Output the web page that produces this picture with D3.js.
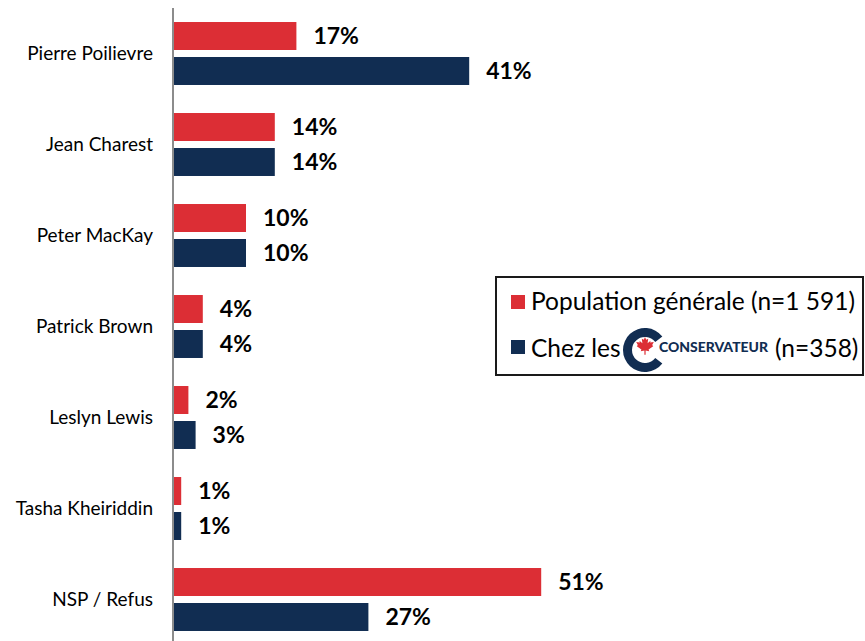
<!DOCTYPE html>
<meta charset="UTF-8">
<html>
<head>
	<title>Course à la direction conservatrice</title>
	<script src="https://d3js.org/d3.v7.min.js"></script>
	<style>
		body { margin: 0; background: #fff; }
		text { font-family: Lato, "Open Sans", sans-serif; }
	</style>
</head>
<body>
	<svg id="chart" width="865" height="641"></svg>

	<script>
		// Data
		var candidates = ["Pierre Poilievre", "Jean Charest", "Peter MacKay", "Patrick Brown",
			"Leslyn Lewis", "Tasha Kheiriddin", "NSP / Refus"];
		var seriesKeys = ["general", "conservateur"];
		var general = [17, 14, 10, 4, 2, 1, 51];
		var conservateur = [41, 14, 10, 4, 3, 1, 27];
		var colors = { general: "#dc2e35", conservateur: "#112d52" };

		var rows = candidates.map(function(c, i){
			return { name: c, general: general[i], conservateur: conservateur[i] };
		});

		var svg = d3.select("#chart");

		// Scales
		var y = d3.scaleBand()
			.domain(candidates)
			.range([8, 645])
			.paddingInner(0.308)
			.paddingOuter(0.154);
		var ySub = d3.scaleBand()
			.domain(seriesKeys)
			.range([0, y.bandwidth()])
			.paddingInner(0.2);
		var x = d3.scaleLinear()
			.domain([0, 100])
			.range([174, 894]);

		// Bars and labels
		var groups = svg.selectAll("g.group")
			.data(rows)
			.enter()
			.append("g")
				.attr("class", "group")
				.attr("transform", function(d){ return "translate(0," + y(d.name) + ")"; });

		seriesKeys.forEach(function(k){
			groups.append("rect")
				.attr("x", x(0))
				.attr("y", ySub(k))
				.attr("width", function(d){ return x(d[k]) - x(0); })
				.attr("height", ySub.bandwidth())
				.style("fill", colors[k]);

			groups.append("text")
				.attr("x", function(d){ return x(d[k]) + 17; })
				.attr("y", ySub(k) + ySub.bandwidth() / 2)
				.attr("dy", "0.36em")
				.style("font-size", "23px")
				.style("font-weight", "bold")
				.style("fill", "#000")
				.text(function(d){ return d[k] + "%"; });
		});

		// Category axis
		var yAxis = d3.axisLeft(y).tickSize(0).tickPadding(20);
		var ax = svg.append("g")
			.attr("transform", "translate(" + (x(0) - 1) + ",0)")
			.call(yAxis);
		ax.select(".domain").remove();
		ax.selectAll("text")
			.style("font-family", "Lato, 'Open Sans', sans-serif")
			.style("font-size", "19px")
			.style("fill", "#000");

		svg.append("line")
			.attr("x1", x(0) - 1).attr("x2", x(0) - 1)
			.attr("y1", 8).attr("y2", 641)
			.style("stroke", "#8c8c8c")
			.style("stroke-width", 2);

		// Legend
		var legend = svg.append("g");
		legend.append("rect")
			.attr("x", 496).attr("y", 277)
			.attr("width", 367).attr("height", 98)
			.style("fill", "#fff")
			.style("stroke", "#1a1a1a")
			.style("stroke-width", 2);

		legend.append("rect")
			.attr("x", 511).attr("y", 295).attr("width", 14).attr("height", 14)
			.style("fill", colors.general);
		legend.append("text")
			.attr("x", 531).attr("y", 310)
			.style("font-size", "24.5px")
			.text("Population générale (n=1 591)");

		legend.append("rect")
			.attr("x", 511).attr("y", 340).attr("width", 14).attr("height", 14)
			.style("fill", colors.conservateur);
		legend.append("text")
			.attr("x", 531).attr("y", 357)
			.style("font-size", "24.5px")
			.text("Chez les");

		// Party logo: C with maple leaf, then wordmark
		var logo = legend.append("g").attr("transform", "translate(645,350)");
		logo.append("path")
			.attr("d", d3.arc()
				.innerRadius(13)
				.outerRadius(22)
				.startAngle(Math.PI * 2 * 128 / 360)
				.endAngle(Math.PI * 2 * 412 / 360)())
			.style("fill", colors.conservateur);
		var leaf = [[0,-1],[0.12,-0.72],[0.32,-0.82],[0.26,-0.38],[0.55,-0.62],[0.52,-0.44],[0.88,-0.5],
			[0.72,-0.2],[0.82,-0.08],[0.36,0.26],[0.42,0.42],[0.06,0.36],[0.06,0.78],[-0.06,0.78],
			[-0.06,0.36],[-0.42,0.42],[-0.36,0.26],[-0.82,-0.08],[-0.72,-0.2],[-0.88,-0.5],[-0.52,-0.44],
			[-0.55,-0.62],[-0.26,-0.38],[-0.32,-0.82],[-0.12,-0.72]];
		logo.append("path")
			.attr("d", d3.line()(leaf.map(function(p){ return [p[0] * 10, p[1] * 10 - 3]; })) + "Z")
			.style("fill", colors.general);
		legend.append("text")
			.attr("x", 659).attr("y", 352)
			.attr("textLength", 109)
			.attr("lengthAdjust", "spacingAndGlyphs")
			.style("font-size", "13px")
			.style("font-weight", "900")
			.style("fill", colors.conservateur)
			.text("CONSERVATEUR");
		legend.append("text")
			.attr("x", 775).attr("y", 357)
			.style("font-size", "24.5px")
			.text("(n=358)");
	</script>
</body>
</html>
